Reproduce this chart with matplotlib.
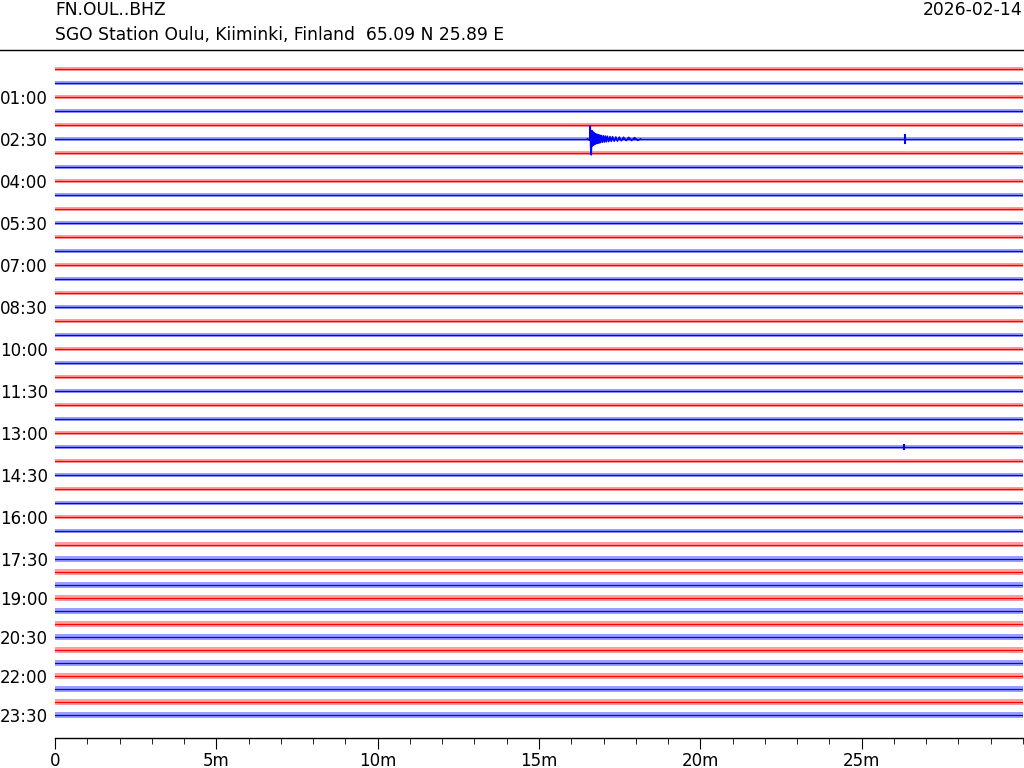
import matplotlib
matplotlib.use("Agg")
import matplotlib.pyplot as plt
from matplotlib.lines import Line2D
from matplotlib.ticker import MultipleLocator

# header texts
station = "FN.OUL..BHZ"
site = "SGO Station Oulu, Kiiminki, Finland  65.09 N 25.89 E"
day = "2026-02-14"

# one helicorder line per 30 minutes, 00:00 .. 23:30
line_start = ["%02d:%02d" % (h, m) for h in range(24) for m in (0, 30)]

# baseline of each line (in line spacings); the evening lines sit a bit closer
line_pos = list(range(36)) + [35.93, 36.86, 37.79, 38.71, 39.64, 40.57,
                              41.50, 42.43, 43.36, 44.29, 45.21, 46.14]

# half width of the background noise on each line (line spacings)
noise_amp = [0.16, 0.15, 0.16, 0.14, 0.15, 0.15, 0.16, 0.15, 0.15, 0.15,
             0.16, 0.15, 0.15, 0.15, 0.16, 0.15, 0.16, 0.15, 0.15, 0.15,
             0.16, 0.15, 0.15, 0.15, 0.16, 0.15, 0.16, 0.15, 0.16, 0.15,
             0.16, 0.16, 0.16, 0.17, 0.18, 0.19, 0.20, 0.20, 0.21, 0.21,
             0.21, 0.21, 0.21, 0.21, 0.21, 0.21, 0.22, 0.22]

# the local event on the 02:30 line (minutes, deflection; negative = up)
event_line = 5
event_min = [16.50, 16.57, 16.59, 16.60, 16.62, 16.64, 16.655, 16.67, 16.685,
             16.70, 16.715, 16.73, 16.75, 16.77, 16.79, 16.81, 16.83, 16.85,
             16.87, 16.89, 16.91, 16.94, 16.97, 17.00, 17.03, 17.06, 17.09,
             17.12, 17.16, 17.20, 17.24, 17.28, 17.33, 17.38, 17.43, 17.49,
             17.55, 17.62, 17.70, 17.78, 17.87, 17.96, 18.06, 18.15]
event_dev = [0.0, 0.08, -0.93, 0.6, 1.14, -0.6, 0.5, -0.52, 0.45, -0.45,
             0.4, -0.4, 0.36, -0.36, 0.33, -0.33, 0.3, -0.3, 0.28, -0.27,
             0.26, -0.25, 0.24, -0.23, 0.22, -0.21, 0.2, -0.2, 0.19, -0.18,
             0.17, -0.17, 0.16, -0.15, 0.15, -0.14, 0.13, -0.13, 0.12, -0.12,
             0.11, -0.1, 0.1, 0.0]

# small isolated spikes (line, minute, half height)
blip_line = [5, 27]
blip_min = [26.34, 26.30]
blip_amp = [0.32, 0.16]

colors = ["red", "blue"]

fig = plt.figure(figsize=(10.24, 7.68), dpi=100)
ax = fig.add_axes([55 / 1024, 30 / 768, 968 / 1024, (738 - 55) / 768])

for i, y0 in enumerate(line_pos):
    c = colors[i % 2]
    a = noise_amp[i]
    ax.fill_between([0, 30], [y0 - a, y0 - a], [y0 + a, y0 + a],
                    color=c, alpha=0.38, lw=0)
    ax.plot([0, 30], [y0, y0], color=c, lw=0.9)

ev_y = [line_pos[event_line] + d for d in event_dev]
ax.plot(event_min, ev_y, color=colors[event_line % 2], lw=1.1)

for ln, t, a in zip(blip_line, blip_min, blip_amp):
    y0 = line_pos[ln]
    ax.plot([t, t], [y0 - a, y0 + a], color=colors[ln % 2], lw=1.5)

ax.set_xlim(0, 30)
ax.set_ylim(47.79, -1.0)
for s in ("top", "left", "right"):
    ax.spines[s].set_visible(False)
ax.spines["bottom"].set_linewidth(1.0)

ax.set_yticks(line_pos[2::3])
ax.set_yticklabels(line_start[2::3])
ax.tick_params(axis="y", length=0, pad=5, labelsize=12)

ax.set_xticks(range(0, 30, 5))
ax.set_xticklabels(["0"] + ["%dm" % m for m in range(5, 30, 5)])
ax.xaxis.set_minor_locator(MultipleLocator(1))
ax.tick_params(axis="x", which="major", length=8, labelsize=12, pad=2)
ax.tick_params(axis="x", which="minor", length=4)

fig.text(55 / 1024, 1 - 10 / 768, station, ha="left", va="center", fontsize=12.3)
fig.text(55 / 1024, 1 - 35 / 768, site, ha="left", va="center", fontsize=12.3)
fig.text(1022 / 1024, 1 - 10 / 768, day, ha="right", va="center", fontsize=12.3)
fig.add_artist(Line2D([0, 1], [1 - 50 / 768] * 2, color="black", lw=1.0))

fig.savefig("out.png", dpi=100)
